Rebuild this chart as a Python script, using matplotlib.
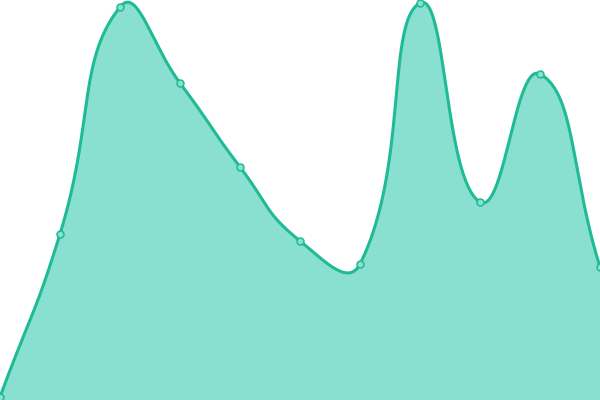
import numpy as np
import matplotlib
matplotlib.use("Agg")
import matplotlib.pyplot as plt

# Data (index positions and values)
categories = list(range(11))
values = [3, 166, 393, 317, 233, 159, 136, 397, 198, 326, 133]

LINE = "#1fbb95"
FILL = "#89e0d0"

fig = plt.figure(figsize=(6, 4), dpi=100)
ax = fig.add_axes([0, 0, 1, 1])
ax.set_xlim(0, 10)
ax.set_ylim(0, 400)
ax.axis("off")


def smooth_path(x, y, smooth=0.5, n=60):
    # bezier smoothing computed in display (pixel) space
    P = ax.transData.transform(np.column_stack([x, y]))
    N = len(P)
    cps = []
    for i in range(N):
        prev = P[i - 1] if i > 0 else P[i]
        nxt = P[i + 1] if i < N - 1 else P[i]
        v = (nxt - prev) * smooth
        lp = np.hypot(*(P[i] - prev))
        ln = np.hypot(*(nxt - P[i]))
        tot = lp + ln
        rn = ln / tot if tot else 0.5
        rp = lp / tot if tot else 0.5
        cps.append((P[i] - v * rp, P[i] + v * rn))
    segs = []
    for i in range(N - 1):
        p0, p3 = P[i], P[i + 1]
        c1 = cps[i][1]
        c2 = cps[i + 1][0]
        t = np.linspace(0, 1, n)[:, None]
        B = ((1 - t) ** 3) * p0 + 3 * ((1 - t) ** 2) * t * c1 + 3 * (1 - t) * t**2 * c2 + t**3 * p3
        segs.append(B if i == 0 else B[1:])
    B = np.vstack(segs)
    D = ax.transData.inverted().transform(B)
    return D[:, 0], D[:, 1]


sx, sy = smooth_path(categories, values)
ax.fill_between(sx, 0, sy, color=FILL, linewidth=0)
ax.plot(sx, sy, color=LINE, linewidth=2.2, solid_capstyle="round")
ax.plot(categories, values, "o", markersize=5, markerfacecolor=FILL,
        markeredgecolor=LINE, markeredgewidth=1.1)
fig.savefig("out.png", dpi=100)
